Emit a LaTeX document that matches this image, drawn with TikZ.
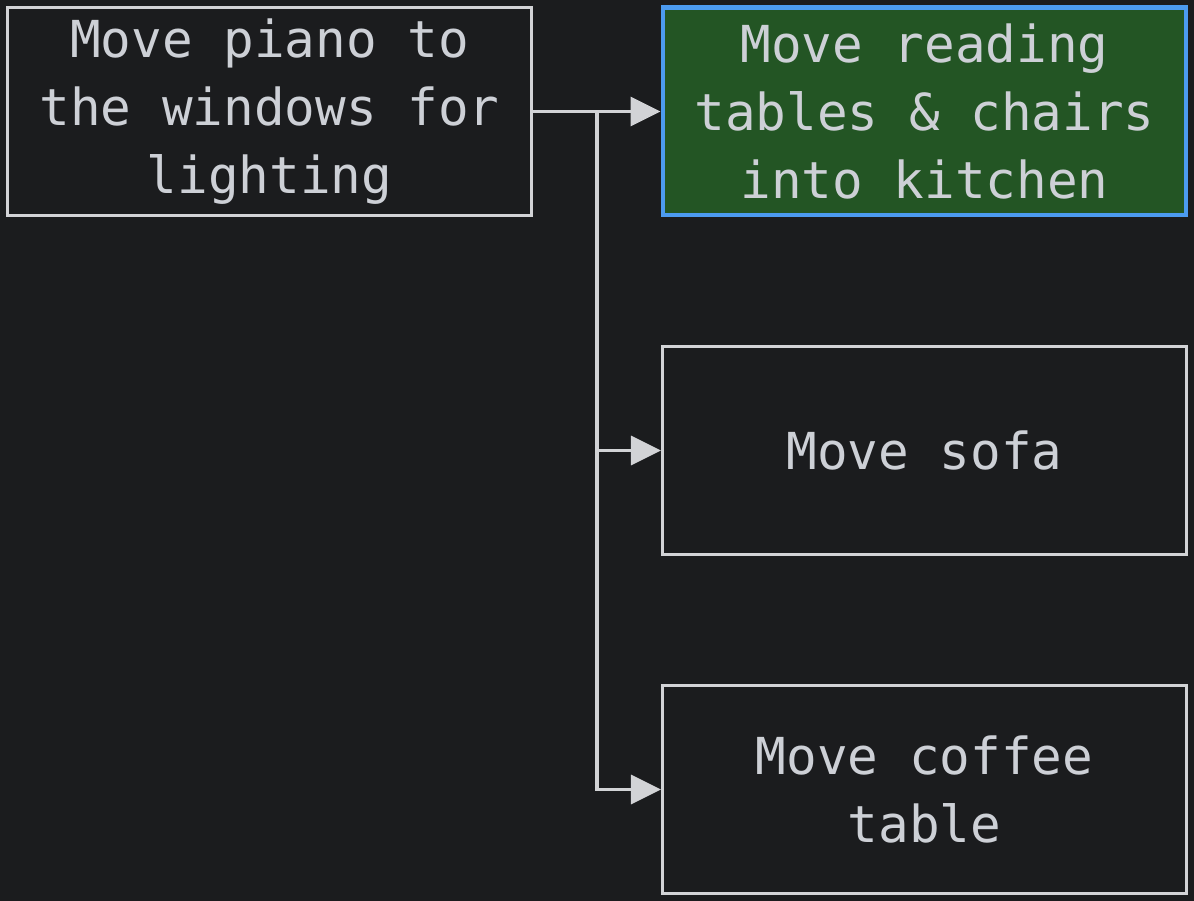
\documentclass[tikz,border=0pt]{standalone}
\usepackage{fontspec}
\setmonofont{DejaVu Sans Mono}
\usetikzlibrary{arrows.meta}
\definecolor{bgdark}{HTML}{1B1C1E}
\definecolor{edgegray}{HTML}{D2D3D6}
\definecolor{textgray}{HTML}{CDD0D6}
\definecolor{taskgreen}{HTML}{235524}
\definecolor{selblue}{HTML}{4C9BF0}
\begin{document}
\begin{tikzpicture}
  [x=0.02cm,y=-0.02cm,
   every node/.style={rectangle,draw=edgegray,line width=1.9pt,text=textgray,
     minimum width=10.48cm,minimum height=4.16cm,inner sep=0pt,align=center,
     font=\ttfamily\fontsize{29}{38.6}\selectfont},
   picked/.style={fill=taskgreen,draw=selblue,line width=2.3pt},
   link/.style={draw=edgegray,line width=1.9pt,-{Triangle[length=0.6cm,width=0.58cm]}}]
  \fill[bgdark] (0,0) rectangle (1194,901);
  \useasboundingbox (0,0) rectangle (1194,901);
  \node (piano) at (269.5, 111.5) {Move piano to\\the windows for\\lighting};
  \node[picked] (tables) at (924.5, 111.5) {Move reading\\tables \& chairs\\into kitchen};
  \node (sofa) at (924.5, 450.5) {Move sofa};
  \node (coffee) at (924.5, 789.5) {Move coffee\\table};

  \coordinate (split) at (597, 111.5);
  \draw[link] (piano.east) -- (tables.west);
  \foreach \to in {sofa,coffee}
    \draw[link] (split) |- (\to.west);
\end{tikzpicture}
\end{document}
